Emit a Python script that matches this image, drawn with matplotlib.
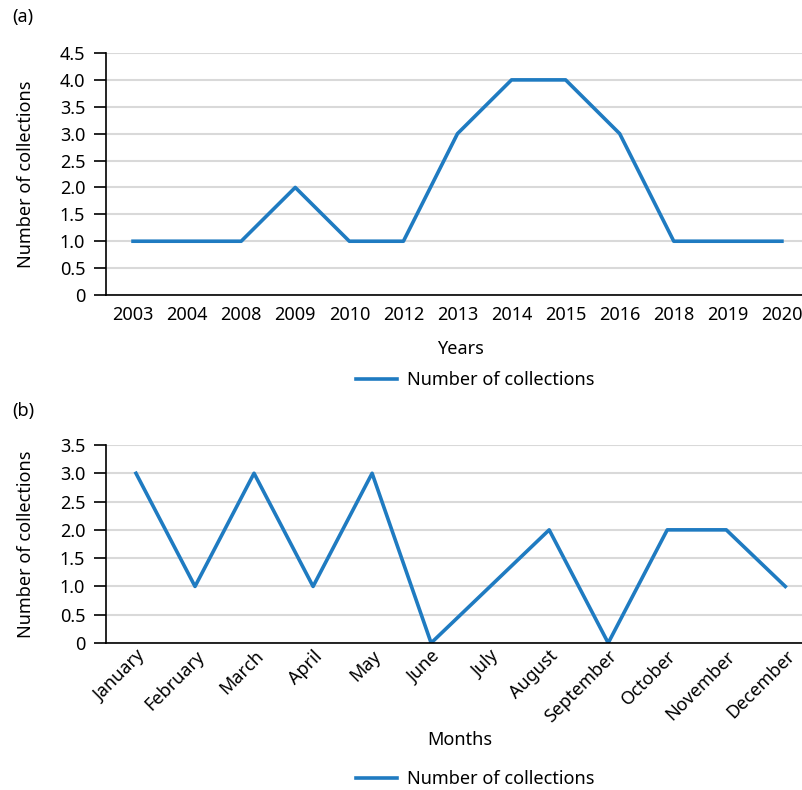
import matplotlib
matplotlib.use("Agg")
import matplotlib.pyplot as plt
from matplotlib.lines import Line2D

plt.rcParams['font.family'] = ['Noto Sans', 'DejaVu Sans']

years = ['2003', '2004', '2008', '2009', '2010', '2012', '2013',
         '2014', '2015', '2016', '2018', '2019', '2020']
year_counts = [1, 1, 1, 2, 1, 1, 3, 4, 4, 3, 1, 1, 1]

months = ['January', 'February', 'March', 'April', 'May', 'June', 'July',
          'August', 'September', 'October', 'November', 'December']
month_counts = [3, 1, 3, 1, 3, 0, 1, 2, 0, 2, 2, 1]

blue = '#1f7bc1'
grid_c = '#d9d9d9'
fs = 13

fig = plt.figure(figsize=(8.03, 7.9), dpi=100)
W, H = 803, 790


def px_axes(x0, y_top, x1, y_bot):
    return fig.add_axes([x0 / W, 1 - y_bot / H, (x1 - x0) / W, (y_bot - y_top) / H])


def style(ax, ymax, labels):
    ax.set_ylim(0, ymax)
    yt = [i * 0.5 for i in range(int(ymax / 0.5) + 1)]
    ax.set_yticks(yt)
    ax.set_yticklabels(['0' if v == 0 else f'{v:.1f}' for v in yt], fontsize=fs)
    ax.set_xticks(range(len(labels)))
    ax.grid(axis='y', color=grid_c, linewidth=1.5)
    ax.set_axisbelow(True)
    for s in ['top', 'right']:
        ax.spines[s].set_visible(False)
    ax.spines['left'].set_linewidth(1.2)
    ax.spines['bottom'].set_linewidth(1.2)
    ax.tick_params(axis='y', length=9, width=1.2, pad=6)
    ax.tick_params(axis='x', length=0)
    ax.set_ylabel('Number of collections', fontsize=fs)
    ax.yaxis.set_label_coords(-0.102, 0.5)


# (a) collections per year
ax1 = px_axes(106, 53, 803, 295)
ax1.plot(range(len(years)), year_counts, color=blue, linewidth=2.6)
style(ax1, 4.5, years)
ax1.set_xlim(-0.5, 12.39)
ax1.set_xticklabels(years, fontsize=fs)
ax1.tick_params(axis='x', pad=8)

# (b) collections per month
ax2 = px_axes(106, 445, 803, 643)
ax2.plot(range(len(months)), month_counts, color=blue, linewidth=2.6)
style(ax2, 3.5, months)
ax2.set_xlim(-0.508, 11.3)
ax2.set_xticklabels(months, fontsize=fs, rotation=45, ha='right',
                    rotation_mode='anchor')
ax2.tick_params(axis='x', pad=3)

fig.text(12 / W, 1 - 17 / H, '(a)', fontsize=fs, va='center')
fig.text(12 / W, 1 - 411 / H, '(b)', fontsize=fs, va='center')
fig.text(460 / W, 1 - 349 / H, 'Years', fontsize=fs, ha='center', va='center')
fig.text(460 / W, 1 - 740 / H, 'Months', fontsize=fs, ha='center', va='center')

handle = [Line2D([0], [0], color=blue, linewidth=2.6)]
for yc in (380, 779):
    fig.legend(handle, ['Number of collections'], loc='center',
               bbox_to_anchor=(475 / W, 1 - yc / H), frameon=False,
               fontsize=fs, handlelength=2.3, handletextpad=0.55)

fig.savefig('out.png', dpi=100)
